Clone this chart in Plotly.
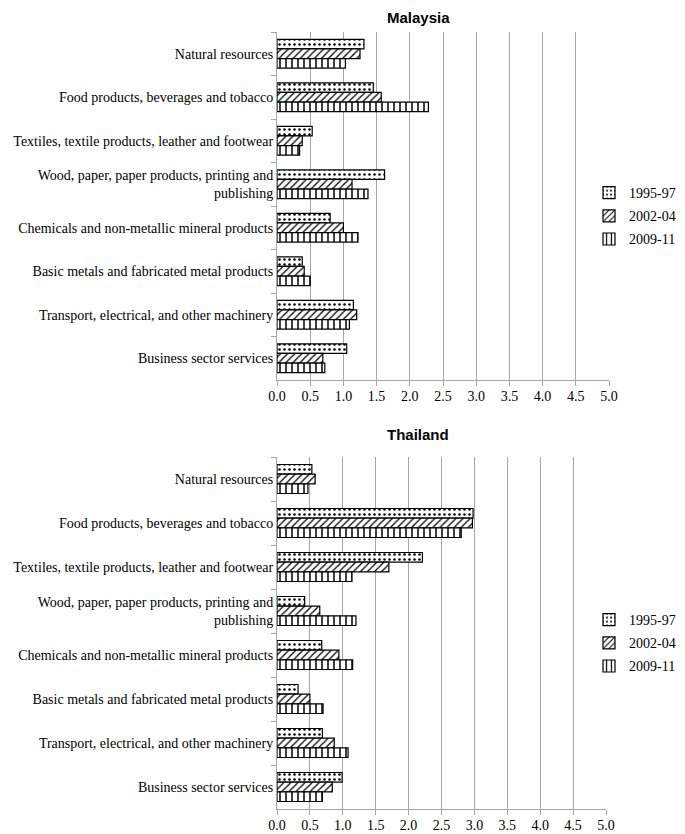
import plotly.graph_objects as go

categories = [
    "Natural resources",
    "Food products, beverages and tobacco",
    "Textiles, textile products, leather and footwear",
    "Wood, paper, paper products, printing and<br>publishing",
    "Chemicals and non-metallic mineral products",
    "Basic metals and fabricated metal products",
    "Transport, electrical, and other machinery",
    "Business sector services",
]
periods = ["1995-97", "2002-04", "2009-11"]

malaysia_1995 = [1.31, 1.45, 0.53, 1.62, 0.80, 0.38, 1.15, 1.05]
malaysia_2002 = [1.25, 1.57, 0.38, 1.13, 1.00, 0.41, 1.20, 0.69]
malaysia_2009 = [1.03, 2.28, 0.34, 1.37, 1.22, 0.50, 1.09, 0.72]

thailand_1995 = [0.53, 2.98, 2.21, 0.42, 0.68, 0.32, 0.69, 0.99]
thailand_2002 = [0.58, 2.97, 1.70, 0.65, 0.94, 0.50, 0.87, 0.84]
thailand_2009 = [0.47, 2.80, 1.14, 1.20, 1.15, 0.70, 1.08, 0.69]

x_ticks = [0.0, 0.5, 1.0, 1.5, 2.0, 2.5, 3.0, 3.5, 4.0, 4.5, 5.0]
x_ticklabels = ["0.0", "0.5", "1.0", "1.5", "2.0", "2.5", "3.0", "3.5", "4.0", "4.5", "5.0"]

patterns = [
    dict(shape=".", size=5, solidity=0.2, fgcolor="black", bgcolor="white"),
    dict(shape="/", size=5, solidity=0.25, fgcolor="black", bgcolor="white"),
    dict(shape="|", size=6, solidity=0.25, fgcolor="black", bgcolor="white"),
]

fig = go.Figure()

series_sets = [
    ([malaysia_1995, malaysia_2002, malaysia_2009], "x", "y", "legend", "m"),
    ([thailand_1995, thailand_2002, thailand_2009], "x2", "y2", "legend2", "t"),
]
for values_list, xa, ya, lg, key in series_sets:
    for i, vals in enumerate(values_list):
        fig.add_trace(go.Bar(
            x=vals, y=categories, orientation="h", name=periods[i],
            xaxis=xa, yaxis=ya, legend=lg, legendgroup=key + periods[i],
            marker=dict(color="white", pattern=patterns[i],
                        line=dict(color="black", width=1.2)),
            hoverinfo="x+y",
        ))

# page body has an 8px margin: figure occupies screen x 8..685, y 8..834
OFF = 8
W, H = 685 - OFF, 834 - OFF
ml = 277 - OFF
mr = 685 - 609
mt = 32 - OFF
mb = 834 - 809
pw = W - ml - mr
ph = H - mt - mb

def fy(screen_y):
    return (H - mb - (screen_y - OFF)) / ph

def fx(screen_x):
    return ((screen_x - OFF) - ml) / pw

serif = "Liberation Serif, Times New Roman, serif"
sans = "Liberation Sans, Arial, sans-serif"

xaxis_common = dict(
    range=[0, 5], tickvals=x_ticks, ticktext=x_ticklabels,
    showgrid=True, gridcolor="#a6a6a6", gridwidth=1,
    showline=True, linecolor="#a6a6a6", linewidth=1,
    ticks="outside", ticklen=5, tickcolor="#a6a6a6", ticklabelstandoff=-2,
    tickfont=dict(family=serif, size=14, color="black"),
    zeroline=False, fixedrange=True, automargin=False,
)
yaxis_common = dict(
    autorange="reversed", type="category",
    showline=True, linecolor="#a6a6a6", linewidth=1,
    ticks="outside", ticklen=5, tickcolor="#a6a6a6", tickson="boundaries",
    tickfont=dict(family=serif, size=14, color="black"),
    showgrid=False, fixedrange=True, automargin=False,
)

legend_common = dict(
    xanchor="left", yanchor="middle", tracegroupgap=2,
    bgcolor="rgba(0,0,0,0)", font=dict(family=serif, size=14, color="black"),
    itemclick=False, itemdoubleclick=False,
)

fig.update_layout(
    template="none",
    width=W, height=H,
    margin=dict(l=ml, r=mr, t=mt, b=mb, autoexpand=False),
    paper_bgcolor="white", plot_bgcolor="white",
    barmode="group", bargap=0.34, bargroupgap=0.0,
    xaxis=dict(domain=[0, 1], anchor="y", **xaxis_common),
    yaxis=dict(domain=[fy(380), 1], anchor="x", **yaxis_common),
    xaxis2=dict(domain=[0, fx(606)], anchor="y2", **xaxis_common),
    yaxis2=dict(domain=[0, fy(457)], anchor="x2", **yaxis_common),
    legend=dict(x=fx(589), y=fy(216), **legend_common),
    legend2=dict(x=fx(589), y=fy(643), **legend_common),
    showlegend=True,
    annotations=[
        dict(text="<b>Malaysia</b>", xref="paper", yref="paper",
             x=fx(418), y=fy(17), xanchor="center", yanchor="middle", showarrow=False,
             font=dict(family=sans, size=15, color="black")),
        dict(text="<b>Thailand</b>", xref="paper", yref="paper",
             x=fx(418), y=fy(434), xanchor="center", yanchor="middle", showarrow=False,
             font=dict(family=sans, size=15, color="black")),
    ],
)

fig.write_html("out.html")
